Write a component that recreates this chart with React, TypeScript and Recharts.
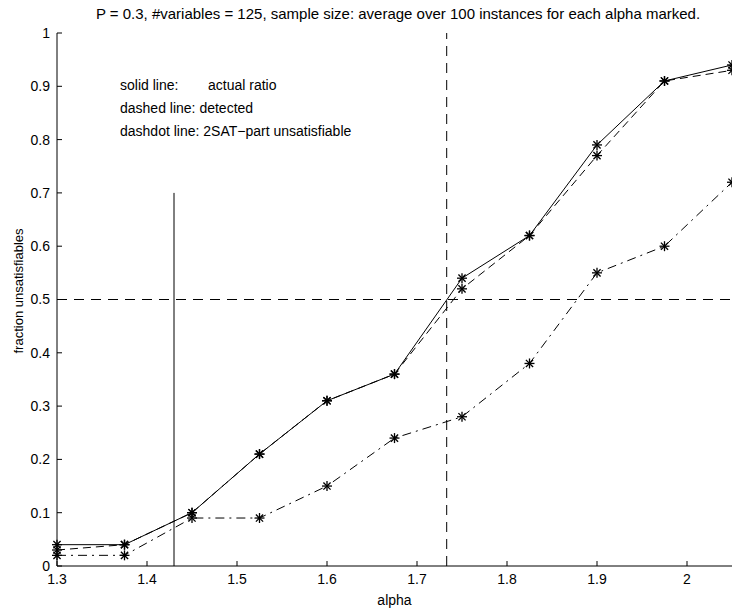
import { LineChart, Line, XAxis, YAxis, ReferenceLine, Customized } from 'recharts';

const alphas = [1.3, 1.375, 1.45, 1.525, 1.6, 1.675, 1.75, 1.825, 1.9, 1.975, 2.05];
const actualRatio = [0.04, 0.04, 0.1, 0.21, 0.31, 0.36, 0.54, 0.62, 0.79, 0.91, 0.94];
const detected = [0.03, 0.04, 0.1, 0.21, 0.31, 0.36, 0.52, 0.62, 0.77, 0.91, 0.93];
const twoSatUnsat = [0.02, 0.02, 0.09, 0.09, 0.15, 0.24, 0.28, 0.38, 0.55, 0.6, 0.72];

const xTicks = [1.3, 1.4, 1.5, 1.6, 1.7, 1.8, 1.9, 2];
const yTicks = [0, 0.1, 0.2, 0.3, 0.4, 0.5, 0.6, 0.7, 0.8, 0.9, 1];

const legendLines = ['solid line:', 'dashed line: detected', 'dashdot line: 2SAT\u2212part unsatisfiable'];

const FONT = '"Liberation Sans", Arial, sans-serif';

const data = alphas.map((a, i) => ({
  alpha: a,
  actual: actualRatio[i],
  detected: detected[i],
  twosat: twoSatUnsat[i],
}));

// asterisk marker like matlab's '*'
function Star(props: any) {
  const { cx, cy } = props;
  if (cx == null || cy == null) return null;
  const r = 5;
  const d = r * 0.72;
  return (
    <g stroke="#000" strokeWidth={1.3}>
      <line x1={cx - r} y1={cy} x2={cx + r} y2={cy} />
      <line x1={cx} y1={cy - r} x2={cx} y2={cy + r} />
      <line x1={cx - d} y1={cy - d} x2={cx + d} y2={cy + d} />
      <line x1={cx - d} y1={cy + d} x2={cx + d} y2={cy - d} />
    </g>
  );
}

function fmt(v: number) {
  return String(Math.round(v * 100) / 100);
}

export default function App() {
  const tickStyle = { fontSize: 14, fill: '#000', fontFamily: FONT };
  return (
    <div style={{ position: 'absolute', left: 0, top: 0, width: 732, height: 611, background: '#fff' }}>
      <LineChart
        width={732}
        height={611}
        data={data}
        margin={{ top: 33, right: 0, bottom: 0, left: 0 }}
      >
        <XAxis
          dataKey="alpha"
          type="number"
          domain={[1.3, 2.05]}
          ticks={xTicks}
          tickFormatter={fmt}
          height={45}
          tickSize={-5}
          tickMargin={13}
          tick={tickStyle}
          stroke="#000"
          axisLine={{ stroke: '#000' }}
          tickLine={{ stroke: '#000' }}
          label={{ value: 'alpha', position: 'insideBottom', offset: 6, fill: '#000', fontSize: 14, fontFamily: FONT }}
        />
        <YAxis
          type="number"
          domain={[0, 1]}
          ticks={yTicks}
          tickFormatter={fmt}
          width={57}
          tickSize={-5}
          tickMargin={12}
          tick={tickStyle}
          stroke="#000"
          axisLine={{ stroke: '#000' }}
          tickLine={{ stroke: '#000' }}
        />
        <ReferenceLine
          segment={[{ x: 1.43, y: 0 }, { x: 1.43, y: 0.7 }]}
          stroke="#000"
          strokeWidth={1}
        />
        <ReferenceLine x={1.733} stroke="#000" strokeDasharray="10 7" />
        <ReferenceLine y={0.5} stroke="#000" strokeDasharray="10 7" />
        <Line
          dataKey="actual"
          stroke="#000"
          strokeWidth={1}
          dot={<Star />}
          isAnimationActive={false}
        />
        <Line
          dataKey="detected"
          stroke="#000"
          strokeWidth={1}
          strokeDasharray="8 5"
          dot={<Star />}
          isAnimationActive={false}
        />
        <Line
          dataKey="twosat"
          stroke="#000"
          strokeWidth={1}
          strokeDasharray="9 5 2 5"
          dot={<Star />}
          isAnimationActive={false}
        />
        <Customized
          component={() => (
            <g fontFamily={FONT} fontSize={14} fill="#000">
              <text x={398} y={19} fontSize={15} textAnchor="middle">
                P = 0.3, #variables = 125, sample size: average over 100 instances for each alpha marked.
              </text>
              <text x={23} y={291} fontSize={13} textAnchor="middle" transform="rotate(-90 23 291)">
                fraction unsatisfiables
              </text>
              <text x={120} y={90}>{legendLines[0]}</text>
              <text x={208} y={90}>actual ratio</text>
              <text x={120} y={113}>{legendLines[1]}</text>
              <text x={120} y={136}>{legendLines[2]}</text>
            </g>
          )}
        />
      </LineChart>
    </div>
  );
}
